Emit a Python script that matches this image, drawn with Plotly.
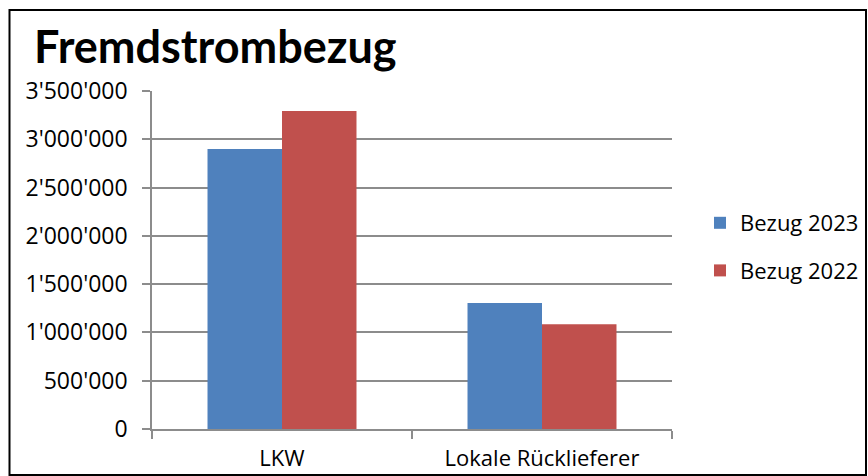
import plotly.graph_objects as go

categories = ["LKW", "Lokale Rücklieferer"]
bezug_2023 = [2900000, 1305000]
bezug_2022 = [3292000, 1085000]
y_ticks = [0, 500000, 1000000, 1500000, 2000000, 2500000, 3000000, 3500000]

FONT = "Open Sans"
TITLE_FONT = "Lato"
W, H = 868, 476
# plot area in reference pixels
PX0, PX1, PY0, PY1 = 152, 672, 91, 429
L, R, T, B = PX0, W - PX1, PY0, H - PY1
pw, ph = W - L - R, H - T - B

def px_x(x):
    return (x - L) / pw

def px_y(y):
    return (H - B - y) / ph

fig = go.Figure()
fig.add_trace(go.Bar(x=categories, y=bezug_2023, name="Bezug 2023",
                     marker=dict(color="#4F81BD", line=dict(width=0)),
                     legendgroup="a"))
fig.add_trace(go.Bar(x=categories, y=bezug_2022, name="Bezug 2022",
                     marker=dict(color="#C0504D", line=dict(width=0)),
                     legendgroup="b"))

fig.update_layout(
    width=W, height=H,
    margin=dict(l=L, r=R, t=T, b=B, pad=0, autoexpand=False),
    paper_bgcolor="white", plot_bgcolor="white",
    separators=".'",
    barmode="group", bargap=0.427, bargroupgap=0,
    font=dict(family=FONT, size=23, color="black"),
    showlegend=True,
    legend=dict(x=px_x(700), y=px_y(247), xanchor="left", yanchor="middle",
                font=dict(size=22, family=FONT), tracegroupgap=16,
                traceorder="grouped", bgcolor="rgba(0,0,0,0)"),
    annotations=[dict(text="<b>Fremdstrombezug</b>", x=px_x(32), y=px_y(46),
                      xref="paper", yref="paper", xanchor="left", yanchor="middle",
                      showarrow=False, font=dict(size=45, family=TITLE_FONT, color="black"))],
    shapes=[dict(type="rect", xref="paper", yref="paper",
                 x0=px_x(9.5), x1=px_x(866), y0=px_y(475), y1=px_y(10),
                 line=dict(color="black", width=2), fillcolor="rgba(0,0,0,0)",
                 layer="above")],
)

fig.update_yaxes(range=[0, 3500000], tickvals=y_ticks, tickformat=",d",
                 automargin=False,
                 showgrid=True, gridcolor="#8C8C8C", gridwidth=1.5,
                 showline=True, linecolor="#8C8C8C", linewidth=1.5,
                 ticks="outside", ticklen=8, tickcolor="#8C8C8C", tickwidth=1.5,
                 zeroline=False, tickfont=dict(size=23, family=FONT),
                 ticklabelstandoff=10)
fig.update_xaxes(automargin=False, showline=True, linecolor="#8C8C8C", linewidth=1.5,
                 ticks="outside", tickson="boundaries", ticklen=8,
                 tickcolor="#8C8C8C", tickwidth=1.5, showgrid=False,
                 tickfont=dict(size=22, family=FONT), ticklabelstandoff=9)

js = ("document.documentElement.style.margin='0';"
      "document.documentElement.style.overflow='hidden';"
      "document.body.style.margin='0';"
      "document.body.style.overflow='hidden';")
fig.write_html("out.html", config={"displayModeBar": False}, post_script=js)
